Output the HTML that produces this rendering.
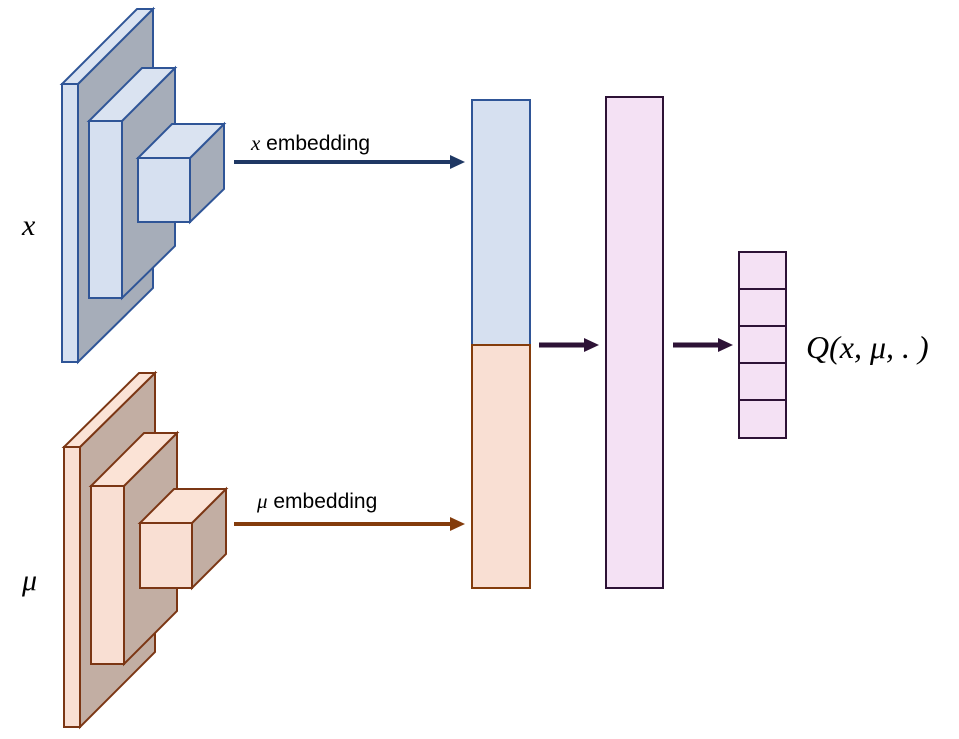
<!DOCTYPE html>
<html><head><meta charset="utf-8"><style>
html,body{margin:0;padding:0;background:#fff;}
svg{display:block;}
.m{font-family:"Liberation Serif",serif;font-style:italic;}
.s{font-family:"Liberation Sans",sans-serif;}
</style></head><body>
<svg width="959" height="739" viewBox="0 0 959 739" xmlns="http://www.w3.org/2000/svg">
<g stroke="#2f5597" stroke-width="2" stroke-linejoin="miter">
  <polygon points="78,84 153,9 153,288 78,362" fill="#a6adb9"/>
  <polygon points="62,84 78,84 153,9 137,9" fill="#dae3f1"/>
  <rect x="62" y="84" width="16" height="278" fill="#d6e0f0"/>
  <polygon points="122,121 175,68 175,246 122,298" fill="#a6adb9"/>
  <polygon points="89,121 122,121 175,68 142,68" fill="#dae3f1"/>
  <rect x="89" y="121" width="33" height="177" fill="#d6e0f0"/>
  <polygon points="190,158 224,124 224,189 190,222" fill="#a6adb9"/>
  <polygon points="138,158 190,158 224,124 172,124" fill="#dae3f1"/>
  <rect x="138" y="158" width="52" height="64" fill="#d6e0f0"/>
</g>
<g stroke="#7b3614" stroke-width="2">
  <polygon points="80,447 155,373 155,652 80,727" fill="#c2aea3"/>
  <polygon points="64,447 80,447 155,373 139,373" fill="#fbe3d6"/>
  <rect x="64" y="447" width="16" height="280" fill="#f9dfd3"/>
  <polygon points="124,486 177,433 177,611 124,664" fill="#c2aea3"/>
  <polygon points="91,486 124,486 177,433 144,433" fill="#fbe3d6"/>
  <rect x="91" y="486" width="33" height="178" fill="#f9dfd3"/>
  <polygon points="192,523 226,489 226,554 192,588" fill="#c2aea3"/>
  <polygon points="140,523 192,523 226,489 174,489" fill="#fbe3d6"/>
  <rect x="140" y="523" width="52" height="65" fill="#f9dfd3"/>
</g>
<text x="22" y="235" class="m" font-size="30">x</text>
<text x="22" y="590" class="m" font-size="30">μ</text>
<!-- arrows -->
<line x1="234" y1="162" x2="452" y2="162" stroke="#1f3864" stroke-width="4"/>
<polygon points="450,155 465,162 450,169" fill="#1f3864"/>
<text x="251" y="150" font-size="21"><tspan class="m">x</tspan><tspan class="s"> embedding</tspan></text>
<line x1="234" y1="524" x2="452" y2="524" stroke="#843c0c" stroke-width="4"/>
<polygon points="450,517 465,524 450,531" fill="#843c0c"/>
<text x="257" y="508" font-size="21"><tspan class="m">μ</tspan><tspan class="s"> embedding</tspan></text>
<!-- concat column -->
<rect x="472" y="100" width="58" height="245" fill="#d6e0f0" stroke="#2f5597" stroke-width="2"/>
<rect x="472" y="345" width="58" height="243" fill="#f9dfd3" stroke="#843c0c" stroke-width="2"/>
<rect x="606" y="97" width="57" height="491" fill="#f4e1f4" stroke="#2d1236" stroke-width="2"/>
<line x1="539" y1="345" x2="587" y2="345" stroke="#2d1236" stroke-width="5"/>
<polygon points="584,338 599,345 584,352" fill="#2d1236"/>
<line x1="673" y1="345" x2="721" y2="345" stroke="#2d1236" stroke-width="5"/>
<polygon points="718,338 733,345 718,352" fill="#2d1236"/>
<g stroke="#2d1236" stroke-width="2" fill="#f4e1f4">
  <rect x="739" y="252" width="47" height="37"/>
  <rect x="739" y="289" width="47" height="37"/>
  <rect x="739" y="326" width="47" height="37"/>
  <rect x="739" y="363" width="47" height="37"/>
  <rect x="739" y="400" width="47" height="38"/>
</g>
<text x="806" y="358" class="m" font-size="32">Q(x, μ, . )</text>
</svg>
</body></html>
